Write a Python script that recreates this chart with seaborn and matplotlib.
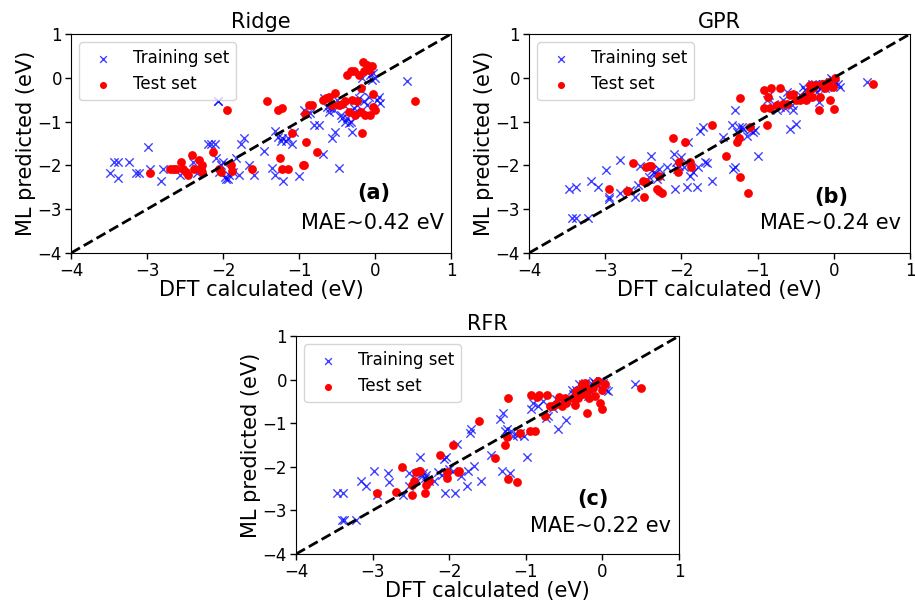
import matplotlib
matplotlib.use("Agg")
import matplotlib.pyplot as plt
import seaborn as sns
import pandas as pd

# ---------------- data (eV) ----------------
# Ridge
ridge_train_dft = [-3.49, -3.43, -3.38, -3.38, -3.24, -3.15, -3.10, -2.99, -2.96, -2.81, -2.79, -2.59, -2.57,
                   -2.40, -2.35, -2.34, -2.20, -2.16, -2.11, -2.09, -2.07, -2.06, -2.05, -2.03, -2.00, -1.98,
                   -1.96, -1.94, -1.92, -1.87, -1.83, -1.79, -1.76, -1.72, -1.66, -1.59, -1.46, -1.35, -1.31,
                   -1.31, -1.28, -1.24, -1.22, -1.21, -1.17, -1.15, -1.09, -1.07, -1.00, -0.93, -0.89, -0.85,
                   -0.80, -0.74, -0.69, -0.67, -0.63, -0.61, -0.59, -0.56, -0.54, -0.52, -0.50, -0.48, -0.45,
                   -0.43, -0.41, -0.39, -0.37, -0.34, -0.32, -0.30, -0.28, -0.26, -0.24, -0.21, -0.19, -0.17,
                   -0.15, -0.10, -0.08, -0.06, -0.04, -0.02, 0.00, 0.03, 0.05, 0.07, 0.42]
ridge_train_ml = [-2.18, -1.93, -1.93, -2.28, -1.93, -2.18, -2.18, -1.59, -2.09, -2.35, -2.08, -2.08, -2.21,
                  -1.92, -2.07, -2.18, -1.50, -1.50, -1.50, -1.84, -0.54, -0.54, -2.15, -1.99, -1.92, -2.26,
                  -2.31, -2.30, -2.21, -2.15, -1.84, -2.21, -1.50, -1.37, -1.99, -2.21, -1.67, -2.07, -1.21,
                  -2.21, -1.34, -1.44, -1.37, -2.36, -1.44, -1.38, -1.50, -1.23, -2.24, -0.74, -0.83, -0.81,
                  -1.08, -1.08, -1.73, -0.47, -0.66, -0.77, -0.69, -1.38, -0.73, -1.23, -0.50, -2.05, -0.85,
                  -0.92, -0.62, -1.00, -0.92, -1.04, -1.00, -1.23, -0.69, -0.77, -0.62, -0.47, -0.27, -0.01,
                  -0.54, -0.62, -0.43, 0.07, -0.05, 0.11, -0.01, -0.50, -0.43, -0.58, -0.07]
ridge_test_dft = [-2.96, -2.70, -2.66, -2.62, -2.55, -2.52, -2.49, -2.46, -2.41, -2.38, -2.31, -2.29, -2.28,
                  -2.27, -2.13, -2.05, -2.03, -1.95, -1.90, -1.88, -1.62, -1.42, -1.27, -1.25, -1.23, -1.23,
                  -1.14, -1.09, -0.95, -0.93, -0.91, -0.92, -0.87, -0.83, -0.76, -0.69, -0.65, -0.61, -0.56,
                  -0.52, -0.48, -0.43, -0.39, -0.37, -0.34, -0.32, -0.30, -0.28, -0.26, -0.24, -0.21, -0.19,
                  -0.18, -0.17, -0.16, -0.15, -0.13, -0.10, -0.08, -0.06, -0.04, -0.02, 0.00, -0.03, 0.52]
ridge_test_ml = [-2.18, -2.08, -2.08, -2.08, -1.93, -2.08, -2.15, -2.21, -1.76, -2.08, -1.88, -2.08, -1.99,
                 -2.15, -1.69, -2.08, -2.15, -0.74, -1.99, -2.13, -2.08, -0.54, -0.74, -1.84, -2.08, -0.69,
                 -2.08, -1.27, -1.99, -1.99, -1.46, -0.83, -0.62, -0.62, -1.70, -0.50, -0.47, -0.43, -0.62,
                 -0.35, -0.62, -0.60, -0.54, 0.07, -0.77, 0.16, -0.50, 0.15, -0.85, -0.54, 0.07, -0.77,
                 -0.24, -1.27, 0.37, 0.15, -0.85, 0.30, 0.18, -0.85, 0.26, -0.66, -0.73, -0.37, -0.54]

# GPR
gpr_train_dft = [-3.48, -3.38, -3.44, -3.38, -3.22, -3.18, -3.10, -2.99, -2.95, -2.95, -2.81, -2.81, -2.67,
                 -2.61, -2.57, -2.54, -2.43, -2.40, -2.38, -2.36, -2.35, -2.32, -2.30, -2.28, -2.19, -2.10,
                 -2.08, -2.07, -2.06, -2.03, -2.00, -1.97, -1.93, -1.91, -1.89, -1.85, -1.79, -1.78, -1.69,
                 -1.67, -1.60, -1.76, -1.71, -1.46, -1.34, -1.32, -1.30, -1.30, -1.27, -1.25, -1.21, -1.19,
                 -1.14, -1.10, -1.06, -1.03, -0.99, -0.88, -0.85, -0.79, -0.75, -0.71, -0.66, -0.64, -0.62,
                 -0.57, -0.55, -0.53, -0.49, -0.47, -0.44, -0.40, -0.38, -0.36, -0.31, -0.29, -0.27, -0.25,
                 -0.22, -0.20, -0.18, -0.16, -0.14, -0.11, -0.09, -0.05, -0.03, -0.01, 0.02, 0.06, 0.08, 0.43]
gpr_train_ml = [-2.54, -2.50, -3.19, -3.19, -3.19, -2.35, -2.50, -2.10, -2.71, -2.76, -1.87, -2.62, -2.56,
                -2.71, -2.45, -2.02, -2.27, -1.78, -2.10, -2.16, -2.20, -2.31, -2.08, -2.24, -2.04, -1.74,
                -2.54, -1.93, -2.08, -2.01, -1.81, -2.04, -2.50, -1.47, -2.24, -2.16, -2.50, -2.04, -1.93,
                -1.94, -2.35, -1.22, -1.12, -1.35, -1.07, -2.08, -2.04, -0.74, -1.24, -1.12, -1.12, -1.16,
                -1.32, -1.20, -1.24, -1.20, -1.78, -0.51, -0.40, -0.59, -0.74, -0.66, -0.51, -0.70, -0.32,
                -1.16, -0.63, -0.74, -1.05, -0.47, -0.40, -0.20, -0.28, -0.43, -0.32, -0.13, -0.17, -0.13,
                -0.32, -0.55, -0.24, -0.20, -0.13, -0.24, -0.20, -0.09, -0.01, -0.05, -0.13, -0.13, -0.20, -0.10]
gpr_test_dft = [-2.95, -2.71, -2.70, -2.63, -2.50, -2.49, -2.46, -2.46, -2.43, -2.40, -2.32, -2.30, -2.26,
                -2.29, -2.11, -2.04, -2.03, -1.95, -1.89, -1.88, -1.60, -1.41, -1.27, -1.25, -1.23, -1.23,
                -1.12, -1.10, -0.92, -0.92, -0.88, -0.86, -0.84, -0.82, -0.75, -0.71, -0.66, -0.62, -0.57,
                -0.53, -0.49, -0.44, -0.40, -0.36, -0.33, -0.31, -0.29, -0.27, -0.25, -0.20, -0.18, -0.16,
                -0.14, -0.11, -0.09, -0.07, -0.05, -0.01, 0.00, 0.02, 0.52]
gpr_test_ml = [-2.54, -2.58, -2.58, -1.94, -2.35, -2.72, -2.37, -2.04, -2.01, -2.01, -2.54, -2.58, -2.62,
               -2.24, -1.38, -2.16, -1.93, -1.47, -1.93, -2.04, -1.07, -1.78, -1.47, -1.38, -0.46, -2.27,
               -2.62, -1.12, -0.28, -0.69, -1.07, -0.43, -0.70, -0.24, -0.63, -0.24, -0.59, -0.59, -0.40,
               -0.36, -0.51, -0.51, -0.43, -0.51, -0.32, -0.17, -0.43, -0.24, -0.17, -0.74, -0.43, -0.13,
               -0.13, -0.24, -0.17, -0.09, -0.51, -0.20, -0.72, -0.01, -0.15]

# RFR
rfr_train_dft = [-3.47, -3.38, -3.40, -3.37, -3.22, -3.15, -3.09, -2.98, -2.94, -2.80, -2.78, -2.60, -2.53,
                 -2.52, -2.43, -2.38, -2.36, -2.34, -2.32, -2.30, -2.27, -2.20, -2.14, -2.10, -2.07, -2.06,
                 -2.04, -2.00, -1.95, -1.93, -1.90, -1.84, -1.77, -1.75, -1.73, -1.71, -1.67, -1.59, -1.45,
                 -1.34, -1.30, -1.31, -1.27, -1.25, -1.21, -1.19, -1.17, -1.12, -1.08, -1.03, -0.98, -0.93,
                 -0.90, -0.84, -0.77, -0.73, -0.71, -0.64, -0.60, -0.58, -0.56, -0.53, -0.48, -0.45, -0.40,
                 -0.38, -0.34, -0.30, -0.27, -0.25, -0.23, -0.21, -0.19, -0.17, -0.14, -0.12, -0.10, -0.08,
                 -0.03, -0.01, 0.01, 0.05, 0.07, 0.42]
rfr_train_ml = [-2.60, -2.60, -3.23, -3.23, -3.23, -2.33, -2.45, -2.09, -2.65, -2.15, -2.35, -2.65, -2.14,
                -2.45, -2.28, -1.77, -2.22, -2.15, -2.25, -2.18, -2.33, -2.33, -2.12, -2.18, -1.83, -2.60,
                -1.78, -2.06, -2.10, -2.60, -1.47, -2.22, -2.45, -2.10, -1.22, -1.14, -1.99, -2.33, -1.72,
                -0.91, -0.76, -2.10, -1.18, -1.14, -2.14, -1.18, -1.30, -1.26, -1.22, -1.30, -1.78, -0.68,
                -0.53, -0.61, -0.49, -0.88, -0.84, -0.65, -0.45, -1.14, -0.57, -0.49, -0.93, -0.49, -0.23,
                -0.34, -0.23, -0.11, -0.19, -0.11, -0.07, -0.26, -0.38, -0.23, -0.11, -0.03, -0.07, -0.11,
                -0.03, -0.02, -0.07, -0.23, -0.26, -0.09]
rfr_test_dft = [-2.94, -2.70, -2.62, -2.49, -2.48, -2.46, -2.43, -2.40, -2.38, -2.32, -2.30, -2.26, -2.12,
                -2.03, -2.03, -1.95, -1.88, -1.87, -1.61, -1.40, -1.27, -1.25, -1.23, -1.23, -1.12, -1.08,
                -0.94, -0.93, -0.88, -0.86, -0.83, -0.75, -0.72, -0.69, -0.64, -0.60, -0.57, -0.53, -0.49,
                -0.47, -0.40, -0.36, -0.34, -0.32, -0.30, -0.27, -0.25, -0.23, -0.20, -0.19, -0.17, -0.12,
                -0.10, -0.08, -0.06, -0.03, -0.01, 0.00, 0.03, 0.51]
rfr_test_ml = [-2.60, -2.58, -2.01, -2.41, -2.65, -2.33, -2.12, -2.10, -2.10, -2.60, -2.41, -2.33, -1.73,
               -2.25, -2.12, -1.49, -2.12, -2.10, -0.94, -1.79, -1.49, -1.32, -2.28, -0.43, -2.35, -1.22,
               -1.17, -0.36, -1.17, -0.40, -0.36, -0.84, -0.36, -0.61, -0.61, -0.57, -0.40, -0.61, -0.42,
               -0.53, -0.42, -0.59, -0.26, -0.42, -0.23, -0.11, -0.34, -0.07, -0.76, -0.23, -0.42, -0.19,
               -0.38, -0.07, -0.03, -0.53, -0.23, -0.67, -0.11, -0.19]

panel_titles = ["Ridge", "GPR", "RFR"]
panel_tags = ["(a)", "(b)", "(c)"]
panel_mae = ["MAE~0.42 eV", "MAE~0.24 ev", "MAE~0.22 ev"]
ticks = [-4, -3, -2, -1, 0, 1]
parity = [-4, 1]

# ---------------- figure ----------------
sns.set_style("ticks")
plt.rcParams["font.family"] = ["DejaVu Sans"]
for key in ["axes.edgecolor", "xtick.color", "ytick.color", "text.color", "axes.labelcolor"]:
    plt.rcParams[key] = "black"

fig = plt.figure(figsize=(9.15, 6.02), dpi=100)
ax_a = fig.add_axes([0.0776, 0.5797, 0.4153, 0.3638])
ax_b = fig.add_axes([0.5781, 0.5797, 0.4164, 0.3638])
ax_c = fig.add_axes([0.3235, 0.0797, 0.4186, 0.3621])

panels = [
    (ax_a, ridge_train_dft, ridge_train_ml, ridge_test_dft, ridge_test_ml, (-0.02, -2.62), (-0.03, -3.32)),
    (ax_b, gpr_train_dft, gpr_train_ml, gpr_test_dft, gpr_test_ml, (-0.03, -2.72), (-0.04, -3.32)),
    (ax_c, rfr_train_dft, rfr_train_ml, rfr_test_dft, rfr_test_ml, (-0.12, -2.74), (-0.03, -3.36)),
]

for i, (ax, trx, tr_y, tex, tey, tagpos, maepos) in enumerate(panels):
    df_tr = pd.DataFrame({"dft": trx, "ml": tr_y})
    df_te = pd.DataFrame({"dft": tex, "ml": tey})
    sns.scatterplot(data=df_tr, x="dft", y="ml", ax=ax, marker="x", color="blue",
                    s=36, linewidth=1.0, alpha=0.75, label="Training set", zorder=2)
    sns.scatterplot(data=df_te, x="dft", y="ml", ax=ax, marker="o", color="red",
                    s=40, edgecolor="red", linewidth=0, label="Test set", zorder=3)
    sns.lineplot(x=parity, y=parity, ax=ax, color="black", linestyle="--", linewidth=2, zorder=4)
    ax.set_xlim(-4, 1)
    ax.set_ylim(-4, 1)
    ax.set_xticks(ticks)
    ax.set_yticks(ticks)
    ax.tick_params(labelsize=12, direction="out", length=4, width=1, pad=2.5)
    ax.set_xlabel("DFT calculated (eV)", fontsize=15, labelpad=0)
    ax.set_ylabel("ML predicted (eV)", fontsize=15, labelpad=1)
    ax.set_title(panel_titles[i], fontsize=15, pad=4)
    for sp in ax.spines.values():
        sp.set_visible(True)
        sp.set_color("black")
    ax.text(tagpos[0], tagpos[1], panel_tags[i], fontsize=15, fontweight="bold", ha="center", va="center")
    ax.text(maepos[0], maepos[1], panel_mae[i], fontsize=15, ha="center", va="center")
    leg = ax.legend(loc="upper left", fontsize=12, frameon=True, markerscale=0.8)
    leg.get_frame().set_edgecolor("#cccccc")

fig.savefig("out.png", dpi=100)
